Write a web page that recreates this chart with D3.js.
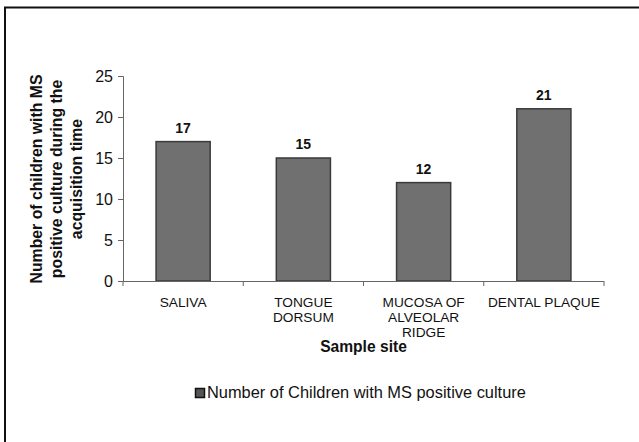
<!DOCTYPE html>
<html><head><meta charset="utf-8">
<script src="https://cdn.jsdelivr.net/npm/d3@7"></script>
<style>body{margin:0;background:#fff}svg{display:block;font-family:"Liberation Sans",Arial,sans-serif}</style>
</head><body>
<svg id="c" width="639" height="442"></svg>
<script>
const categories = [["SALIVA"],["TONGUE","DORSUM"],["MUCOSA OF","ALVEOLAR","RIDGE"],["DENTAL PLAQUE"]];
const values = [17, 15, 12, 21];
const yTicks = [0,5,10,15,20,25];
const yTitle = ["Number of children with MS","positive culture during the","acquisition time"];
const xTitle = "Sample site";
const legendLabel = "Number of Children with MS positive culture";

const svg = d3.select("#c");
// outer frame
svg.append("rect").attr("x",5).attr("y",7.5).attr("width",660).attr("height",460)
  .attr("fill","none").attr("stroke","#111").attr("stroke-width",2);

const x = d3.scaleBand().domain(d3.range(categories.length)).range([123,604]).paddingInner(0.55).paddingOuter(0.275);
const y = d3.scaleLinear().domain([0,25]).range([281,76]);

const g = svg.append("g");
// bars
g.selectAll("rect.bar").data(values).join("rect").attr("class","bar")
  .attr("x",(d,i)=>x(i)).attr("width",x.bandwidth())
  .attr("y",d=>y(d)).attr("height",d=>y(0)-y(d))
  .attr("fill","#707070").attr("stroke","#3a3a3a").attr("stroke-width",1.5);
// value labels
g.selectAll("text.val").data(values).join("text").attr("class","val")
  .attr("x",(d,i)=>x(i)+x.bandwidth()/2).attr("y",d=>y(d)-9)
  .attr("text-anchor","middle").attr("font-size",14).attr("font-weight","bold").attr("fill","#111")
  .text(d=>d);

// y axis
const ya = svg.append("g").attr("transform","translate(123,0)")
  .call(d3.axisLeft(y).tickValues(yTicks).tickSize(5).tickPadding(5));
ya.select(".domain").attr("stroke","#666");
ya.selectAll(".tick line").attr("stroke","#666");
ya.selectAll(".tick text").attr("font-size",16).attr("fill","#111").attr("font-family","Liberation Sans, Arial, sans-serif");

// x axis
const edges = d3.range(categories.length+1).map(i=>123 + i*(604-123)/categories.length);
svg.append("line").attr("x1",123).attr("x2",604).attr("y1",281.5).attr("y2",281.5).attr("stroke","#666");
svg.selectAll("line.xt").data(edges).join("line").attr("class","xt")
  .attr("x1",d=>d).attr("x2",d=>d).attr("y1",281).attr("y2",286).attr("stroke","#666");

// x labels
const xl = svg.selectAll("text.xl").data(categories).join("text").attr("class","xl")
  .attr("text-anchor","middle").attr("font-size",13.7).attr("fill","#111")
  .attr("transform",(d,i)=>`translate(${x(i)+x.bandwidth()/2},307)`);
xl.selectAll("tspan").data(d=>d).join("tspan").attr("x",0).attr("dy",(d,i)=>i?15:0).text(d=>d);

// x title
svg.append("text").attr("x",363.5).attr("y",352).attr("text-anchor","middle")
  .attr("font-size",15.6).attr("font-weight","bold").attr("fill","#111").text(xTitle);

// y title
const yt = svg.append("text").attr("transform","translate(0,179) rotate(-90)")
  .attr("text-anchor","middle").attr("font-size",15.8).attr("font-weight","bold").attr("fill","#111");
yt.selectAll("tspan").data(yTitle).join("tspan").attr("x",0).attr("y",(d,i)=>42+i*20).text(d=>d);

// legend
svg.append("rect").attr("x",195.5).attr("y",388.5).attr("width",9).attr("height",9)
  .attr("fill","#555").attr("stroke","#111").attr("stroke-width",1.5);
svg.append("text").attr("x",207).attr("y",398).attr("font-size",16.4).attr("fill","#111").text(legendLabel);
</script>
</body></html>
